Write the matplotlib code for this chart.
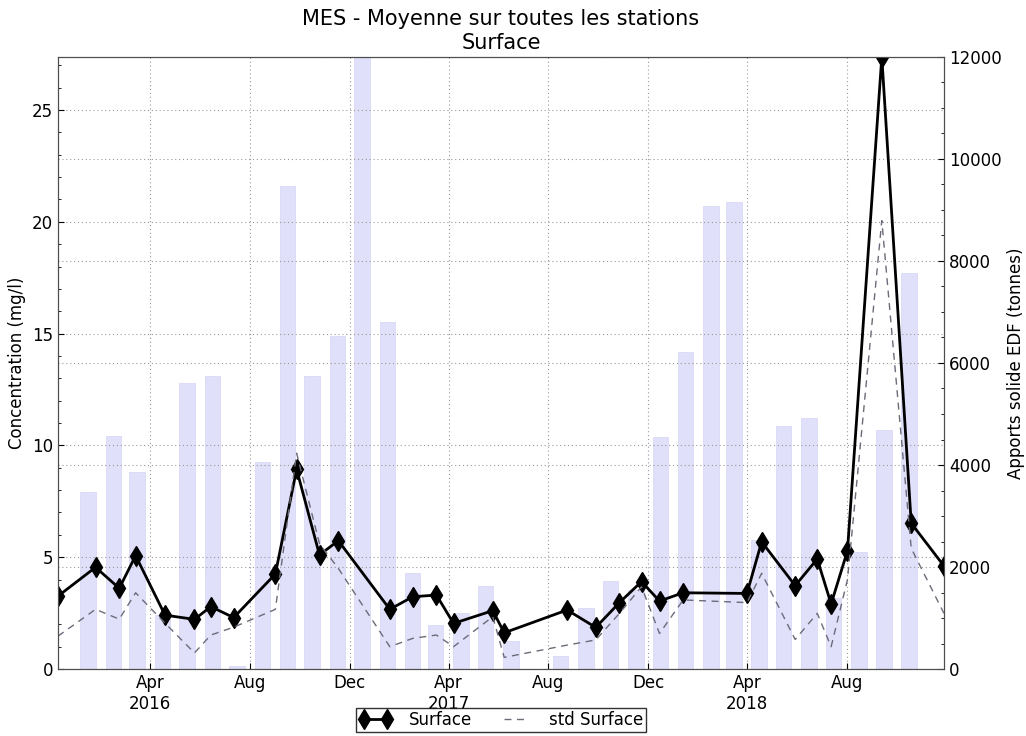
import numpy as np
import pandas as pd
import matplotlib
matplotlib.use('Agg')
import matplotlib.pyplot as plt
import matplotlib.dates as mdates
from matplotlib.ticker import MultipleLocator, FuncFormatter


# Concentration moyenne (surface) et ecart-type
dates = ['2015-12-10', '2016-01-25', '2016-02-23', '2016-03-14', '2016-04-19',
         '2016-05-25', '2016-06-14', '2016-07-12', '2016-09-01', '2016-09-27',
         '2016-10-25', '2016-11-17', '2017-01-19', '2017-02-16', '2017-03-17',
         '2017-04-07', '2017-05-25', '2017-06-08', '2017-08-24', '2017-09-28',
         '2017-10-27', '2017-11-23', '2017-12-15', '2018-01-13', '2018-04-01',
         '2018-04-19', '2018-05-30', '2018-06-26', '2018-07-13', '2018-08-02',
         '2018-09-13', '2018-10-19', '2018-11-28']
surface = [3.26, 4.55, 3.61, 5.07, 2.41, 2.22, 2.79, 2.30, 4.25, 8.93,
           5.10, 5.74, 2.67, 3.23, 3.31, 2.04, 2.61, 1.62, 2.64, 1.86,
           2.97, 3.91, 3.04, 3.41, 3.38, 5.69, 3.73, 4.92, 2.91, 5.29,
           27.37, 6.52, 4.61]
std_surface = [1.47, 2.67, 2.23, 3.41, 2.05, 0.72, 1.52, 1.87, 2.67, 9.65,
               5.6, 4.5, 1.0, 1.37, 1.52, 1.0, 2.34, 0.52, 1.07, 1.30,
               2.49, 3.68, 1.59, 3.09, 2.97, 4.28, 1.32, 2.49, 1.0, 4.0,
               20.05, 5.4, 2.49]

# Apports solides EDF mensuels (tonnes)
months = pd.date_range('2016-01-01', '2018-10-01', freq='MS')
apports = [3470, 4570, 3860, 1060, 5610, 5745, 60, 4050, 9470, 5745,
           6530, 12000, 6800, 1890, 860, 1100, 1625, 555, 0, 255,
           1190, 1730, 1550, 4545, 6225, 9075, 9160, 2530, 4765, 4915,
           1385, 2290, 4690, 7760]

t = pd.to_datetime(dates)
bar_t = months + pd.Timedelta(days=15)

plt.rcParams['font.size'] = 12
plt.rcParams['xtick.direction'] = 'in'
plt.rcParams['ytick.direction'] = 'in'

fig = plt.figure(figsize=(10.26, 7.36), dpi=100)
ax = fig.add_axes([0.0565, 0.091, 0.8635, 0.8316])
ax2 = ax.twinx()

grid_style = dict(color='0.6', linestyle=(0, (1, 2.5)), linewidth=0.8)

ax2.bar(bar_t, apports, width=19, color=(0.88, 0.88, 0.98),
        edgecolor=(0.85, 0.85, 0.97), linewidth=0.6)
ax2.set_ylim(0, 12000)
ax2.yaxis.set_major_locator(MultipleLocator(2000))
ax2.yaxis.set_minor_locator(MultipleLocator(500))
ax2.set_ylabel('Apports solide EDF (tonnes)')
ax2.grid(True, axis='y', **grid_style)

ax.set_zorder(ax2.get_zorder() + 1)
ax.patch.set_visible(False)

ax.plot(t, surface, color='black', linewidth=2, marker='d', markersize=10,
        label='Surface')
ax.plot(t, std_surface, color=(0.42, 0.42, 0.48), linestyle=(0, (5, 4)),
        linewidth=1, label='std Surface')

ax.set_xlim(t[0], t[-1])
ax.set_ylim(0, max(surface))
ax.yaxis.set_major_locator(MultipleLocator(5))
ax.yaxis.set_minor_locator(MultipleLocator(1))
ax.set_ylabel('Concentration (mg/l)')

ax.xaxis.set_major_locator(mdates.MonthLocator(bymonth=[4, 8, 12]))


def date_label(x, pos):
    d = mdates.num2date(x)
    if d.month == 4:
        return d.strftime('%b') + '\n' + str(d.year)
    return d.strftime('%b')


ax.xaxis.set_major_formatter(FuncFormatter(date_label))
ax.grid(True, **grid_style)
for a in (ax, ax2):
    a.tick_params(which='major', length=4)
    a.tick_params(which='minor', length=2)
    for s in a.spines.values():
        s.set_color('0.3')

ax.set_title('MES - Moyenne sur toutes les stations\nSurface', fontsize=15)

leg = ax.legend(loc='upper center', bbox_to_anchor=(0.5, -0.063), ncol=2,
                numpoints=2, fancybox=False, fontsize=12, borderaxespad=0,
                handlelength=2.0, columnspacing=1.6, borderpad=0.2,
                handletextpad=1.0)
leg.get_frame().set_edgecolor('black')

fig.savefig('out.png', dpi=100)
